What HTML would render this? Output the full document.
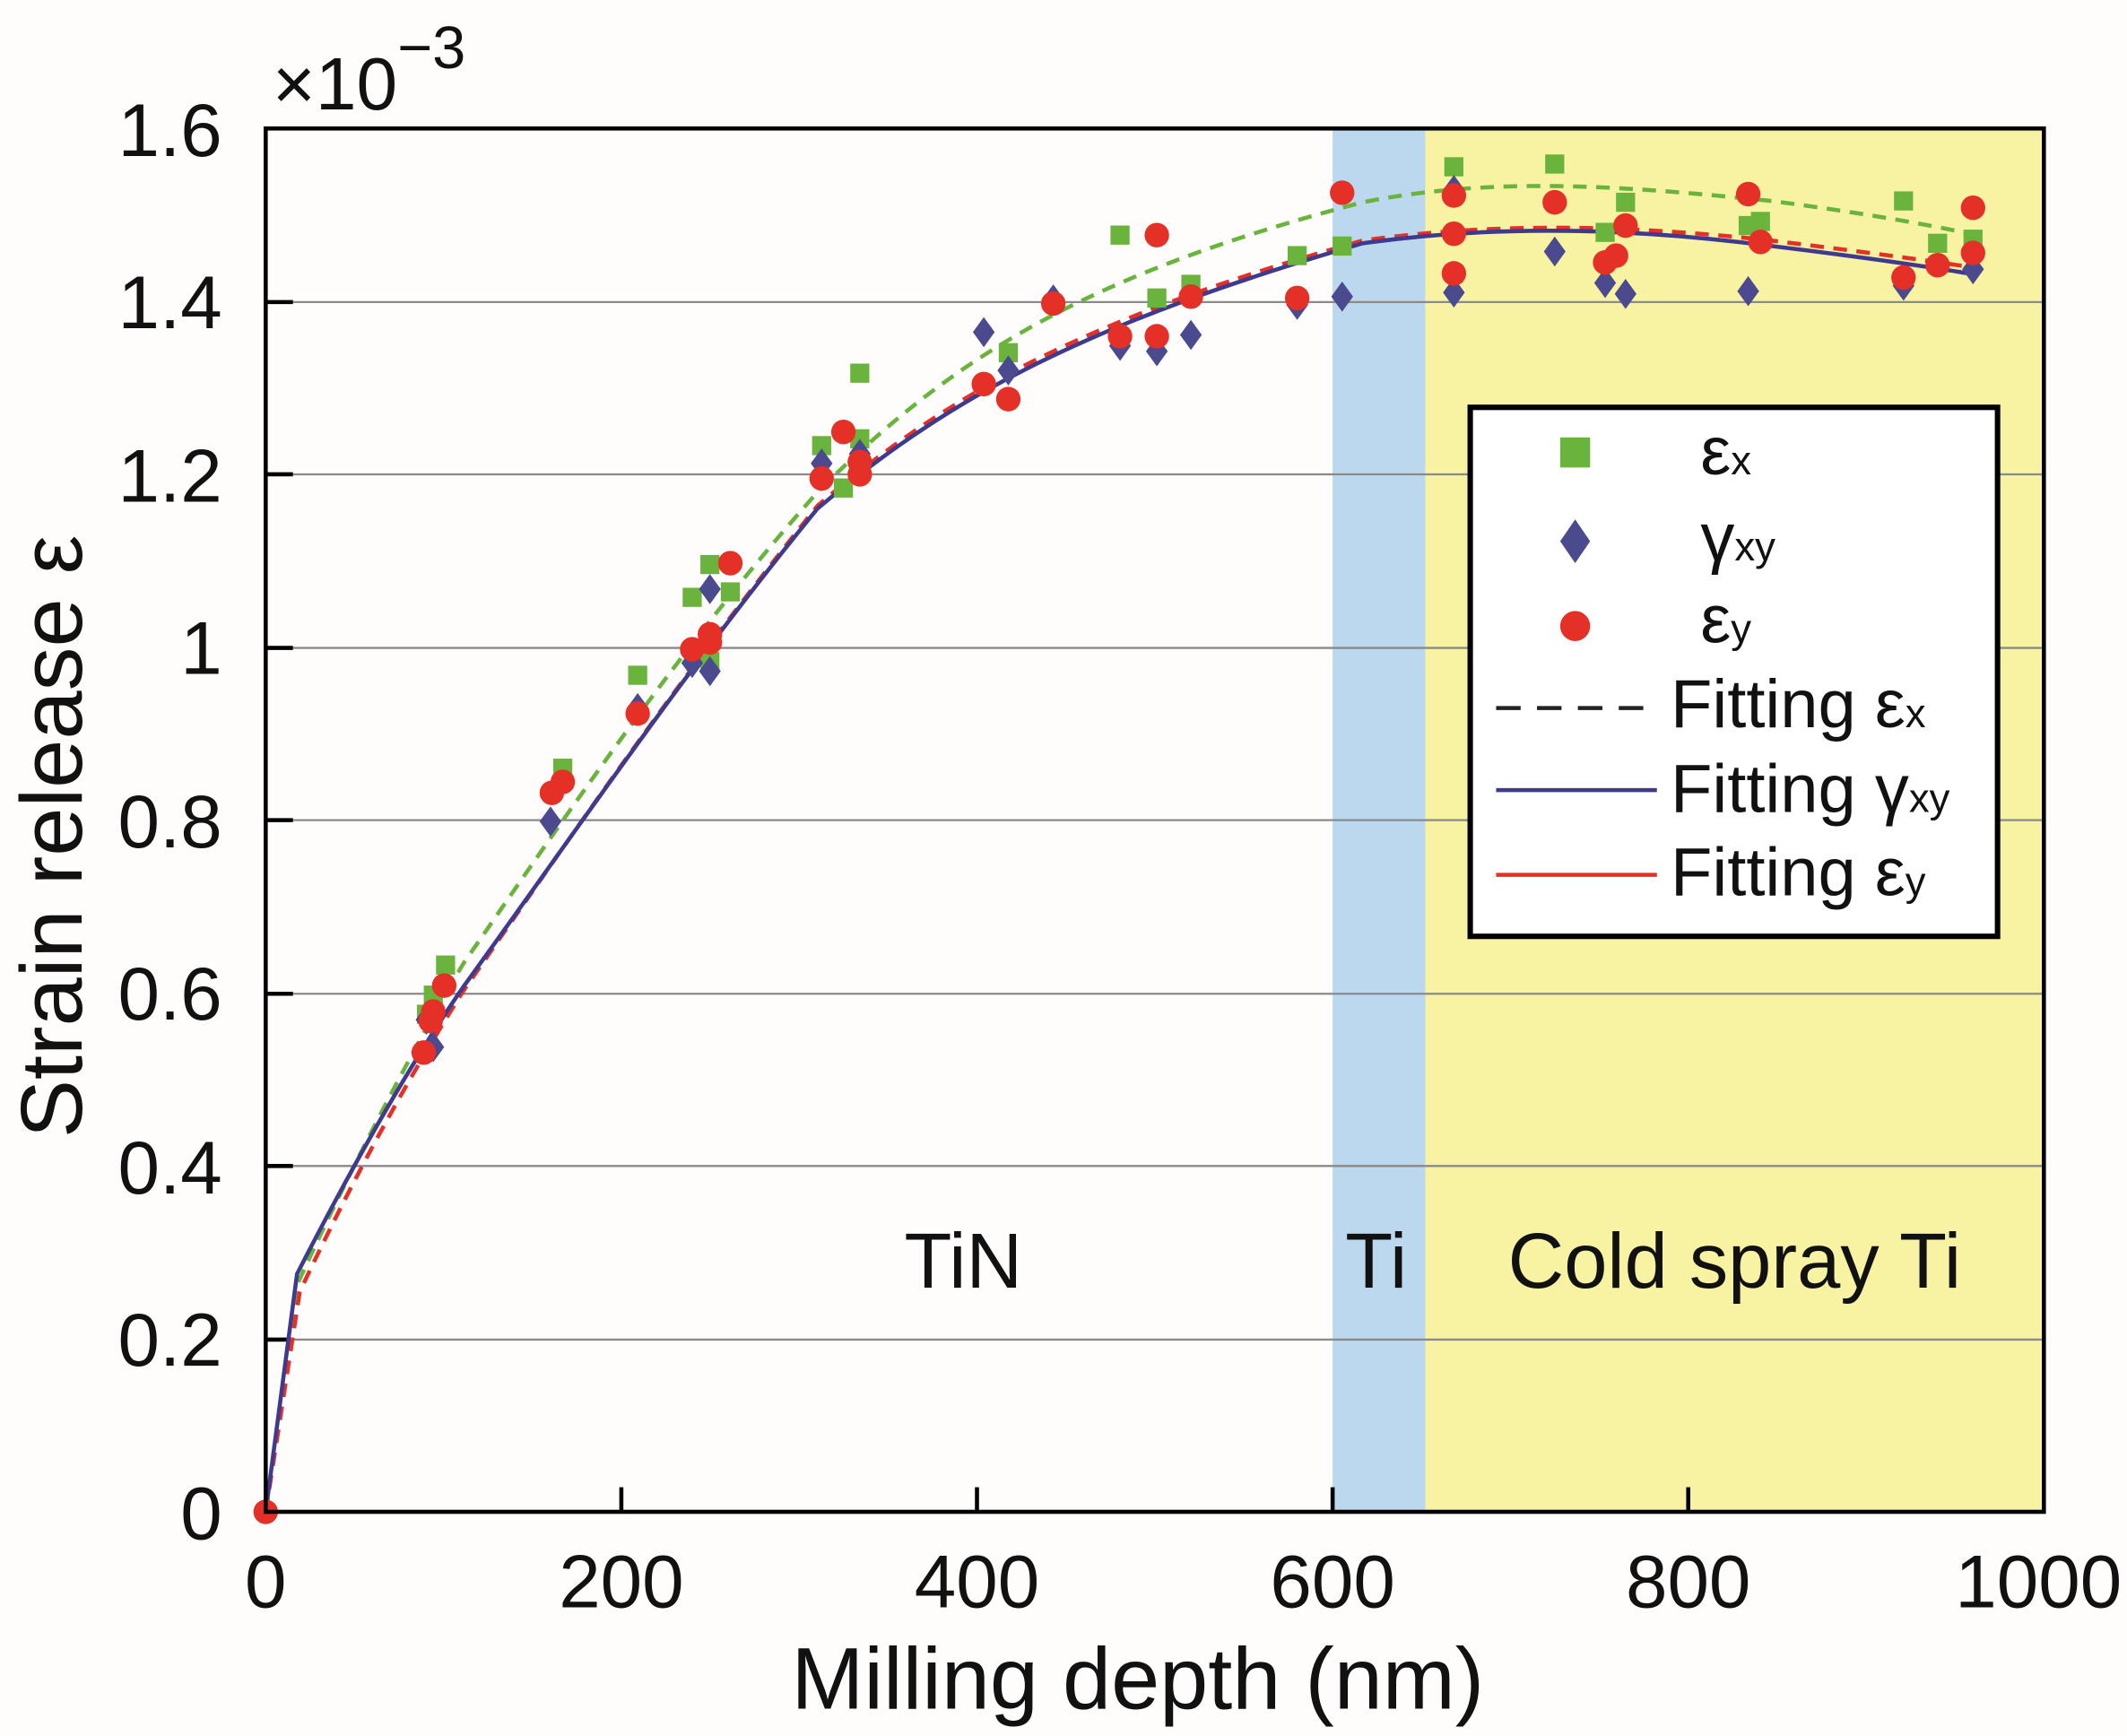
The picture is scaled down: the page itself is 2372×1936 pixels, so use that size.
<!DOCTYPE html>
<html><head><meta charset="utf-8"><style>html,body{margin:0;padding:0;background:#fff;}svg{display:block}</style></head>
<body>
<svg width="2372" height="1936" viewBox="0 0 1561 1270" preserveAspectRatio="none" xmlns="http://www.w3.org/2000/svg" font-family="Liberation Sans, DejaVu Sans, sans-serif">
<rect width="1561" height="1270" fill="#fefdfc"/>
<rect x="978" y="94" width="68" height="1012" fill="#bcd8ee"/>
<rect x="1046" y="94" width="454" height="1012" fill="#f7f3a3"/>
<g stroke="#8a8a8a" stroke-width="1.5">
<line x1="195" y1="221" x2="1500" y2="221"/><line x1="195" y1="347" x2="1500" y2="347"/>
<line x1="195" y1="474" x2="1500" y2="474"/><line x1="195" y1="600" x2="1500" y2="600"/>
<line x1="195" y1="727" x2="1500" y2="727"/><line x1="195" y1="853" x2="1500" y2="853"/>
<line x1="195" y1="980" x2="1500" y2="980"/></g>
<g stroke="#000" stroke-width="3">
<line x1="195" y1="221" x2="215" y2="221"/><line x1="195" y1="347" x2="215" y2="347"/><line x1="195" y1="474" x2="215" y2="474"/><line x1="195" y1="600" x2="215" y2="600"/><line x1="195" y1="727" x2="215" y2="727"/><line x1="195" y1="853" x2="215" y2="853"/><line x1="195" y1="980" x2="215" y2="980"/>
<line x1="456" y1="1106" x2="456" y2="1088"/><line x1="717" y1="1106" x2="717" y2="1088"/><line x1="978" y1="1106" x2="978" y2="1088"/><line x1="1239" y1="1106" x2="1239" y2="1088"/>
</g>
<g fill="none" stroke-width="3">
<path stroke="#6ab43e" stroke-dasharray="10,7" d="M195,1106 L218,940 C250,870 300,772 340,705 C420,590 500,472 600,360 C700,260 800,200 1000,148 C1100,128 1200,137 1300,147 C1400,160 1450,172 1450,172"/>
<path stroke="#e53027" stroke-dasharray="10,7" d="M195,1106 L220,945 C260,860 300,788 340,725 C420,610 500,494 600,370 C700,285 800,232 1000,176 C1100,162 1200,165 1300,176 C1400,188 1450,196 1450,196"/>
<path stroke="#3e3a8e" d="M195,1106 L218,932 C260,850 300,780 340,722 C420,612 500,494 600,372 C700,288 800,236 1000,178 C1100,164 1200,167 1300,180 C1400,192 1450,201 1450,201"/>
</g>
<g fill="#6ab43e">
<rect x="306" y="735" width="14" height="14"/><rect x="311" y="721" width="14" height="14"/><rect x="320" y="699" width="14" height="14"/><rect x="406" y="555" width="14" height="14"/><rect x="461" y="487" width="14" height="14"/><rect x="501" y="430" width="14" height="14"/><rect x="514" y="406" width="14" height="14"/><rect x="514" y="477" width="14" height="14"/><rect x="529" y="426" width="14" height="14"/><rect x="596" y="319" width="14" height="14"/><rect x="612" y="350" width="14" height="14"/><rect x="624" y="314" width="14" height="14"/><rect x="624" y="266" width="14" height="14"/><rect x="733" y="251" width="14" height="14"/><rect x="815" y="165" width="14" height="14"/><rect x="842" y="211" width="14" height="14"/><rect x="867" y="201" width="14" height="14"/><rect x="945" y="180" width="14" height="14"/><rect x="978" y="173" width="14" height="14"/><rect x="1060" y="115" width="14" height="14"/><rect x="1134" y="113" width="14" height="14"/><rect x="1186" y="141" width="14" height="14"/><rect x="1171" y="163" width="14" height="14"/><rect x="1276" y="158" width="14" height="14"/><rect x="1285" y="155" width="14" height="14"/><rect x="1390" y="140" width="14" height="14"/><rect x="1415" y="171" width="14" height="14"/><rect x="1441" y="168" width="14" height="14"/>
</g>
<g fill="#4b4a8f">
<path d="M318,755l8,11l-8,11l-8,-11z M313,735l8,11l-8,11l-8,-11z M404,590l8,11l-8,11l-8,-11z M468,507l8,11l-8,11l-8,-11z M508,474l8,11l-8,11l-8,-11z M521,480l8,11l-8,11l-8,-11z M521,420l8,11l-8,11l-8,-11z M603,328l8,11l-8,11l-8,-11z M631,321l8,11l-8,11l-8,-11z M722,232l8,11l-8,11l-8,-11z M740,260l8,11l-8,11l-8,-11z M773,208l8,11l-8,11l-8,-11z M822,242l8,11l-8,11l-8,-11z M849,246l8,11l-8,11l-8,-11z M874,234l8,11l-8,11l-8,-11z M952,212l8,11l-8,11l-8,-11z M985,206l8,11l-8,11l-8,-11z M1067,203l8,11l-8,11l-8,-11z M1141,173l8,11l-8,11l-8,-11z M1178,196l8,11l-8,11l-8,-11z M1193,204l8,11l-8,11l-8,-11z M1283,202l8,11l-8,11l-8,-11z M1397,198l8,11l-8,11l-8,-11z M1448,186l8,11l-8,11l-8,-11z M1067,128l8,11l-8,11l-8,-11z"/>
</g>
<g fill="#e53027">
<circle cx="195" cy="1106" r="9"/><circle cx="311" cy="770" r="9"/><circle cx="316" cy="747" r="9"/><circle cx="318" cy="740" r="9"/><circle cx="326" cy="721" r="9"/><circle cx="405" cy="580" r="9"/><circle cx="413" cy="572" r="9"/><circle cx="468" cy="522" r="9"/><circle cx="508" cy="475" r="9"/><circle cx="521" cy="470" r="9"/><circle cx="521" cy="464" r="9"/><circle cx="536" cy="412" r="9"/><circle cx="603" cy="350" r="9"/><circle cx="619" cy="316" r="9"/><circle cx="631" cy="347" r="9"/><circle cx="631" cy="338" r="9"/><circle cx="722" cy="281" r="9"/><circle cx="740" cy="292" r="9"/><circle cx="773" cy="222" r="9"/><circle cx="822" cy="246" r="9"/><circle cx="849" cy="246" r="9"/><circle cx="849" cy="172" r="9"/><circle cx="874" cy="217" r="9"/><circle cx="952" cy="218" r="9"/><circle cx="985" cy="141" r="9"/><circle cx="1067" cy="143" r="9"/><circle cx="1067" cy="171" r="9"/><circle cx="1067" cy="200" r="9"/><circle cx="1141" cy="148" r="9"/><circle cx="1178" cy="192" r="9"/><circle cx="1186" cy="187" r="9"/><circle cx="1193" cy="165" r="9"/><circle cx="1283" cy="142" r="9"/><circle cx="1292" cy="177" r="9"/><circle cx="1397" cy="203" r="9"/><circle cx="1422" cy="194" r="9"/><circle cx="1448" cy="152" r="9"/><circle cx="1448" cy="185" r="9"/>
</g>
<rect x="195" y="94" width="1305" height="1012" fill="none" stroke="#000" stroke-width="3"/>
<rect x="1079" y="298" width="387" height="387" fill="#fff" stroke="#000" stroke-width="4"/>
<rect x="1145" y="320" width="22" height="22" fill="#6ab43e"/>
<path d="M1156,380l11,16l-11,16l-11,-16z" fill="#4b4a8f"/>
<circle cx="1156" cy="458" r="11" fill="#e53027"/>
<line x1="1098" y1="518" x2="1214" y2="518" stroke="#222" stroke-width="3" stroke-dasharray="18,12"/>
<line x1="1098" y1="578" x2="1216" y2="578" stroke="#3e3a8e" stroke-width="3"/>
<line x1="1098" y1="640" x2="1216" y2="640" stroke="#e53027" stroke-width="3"/>
<g font-size="50" fill="#111">
<text x="1248" y="347">ε<tspan font-size="30">x</tspan></text>
<text x="1248" y="410">γ<tspan font-size="30">xy</tspan></text>
<text x="1248" y="470">ε<tspan font-size="30">y</tspan></text>
<text x="1226" y="532">Fitting ε<tspan font-size="30">x</tspan></text>
<text x="1226" y="594">Fitting γ<tspan font-size="30">xy</tspan></text>
<text x="1226" y="655">Fitting ε<tspan font-size="30">y</tspan></text>
</g>
<g font-size="57" fill="#111">
<text x="707" y="942" text-anchor="middle">TiN</text>
<text x="1010" y="942" text-anchor="middle">Ti</text>
<text x="1273" y="942" text-anchor="middle">Cold spray Ti</text>
</g>
<g font-size="55" fill="#111" text-anchor="end">
<text x="163" y="114">1.6</text><text x="163" y="240">1.4</text><text x="163" y="367">1.2</text><text x="163" y="493">1</text><text x="163" y="620">0.8</text><text x="163" y="746">0.6</text><text x="163" y="873">0.4</text><text x="163" y="999">0.2</text><text x="163" y="1126">0</text>
</g>
<g font-size="55" fill="#111" text-anchor="middle">
<text x="195" y="1176">0</text><text x="456" y="1176">200</text><text x="717" y="1176">400</text><text x="978" y="1176">600</text><text x="1239" y="1176">800</text><text x="1496" y="1176">1000</text>
</g>
<text x="835" y="1250" font-size="64" fill="#111" text-anchor="middle">Milling depth (nm)</text>
<text transform="translate(60,612) rotate(-90)" font-size="64" fill="#111" text-anchor="middle">Strain release ε</text>
<text x="200" y="80" font-size="54" fill="#111">×10<tspan font-size="44" dy="-30">−3</tspan></text>
</svg>
</body></html>
